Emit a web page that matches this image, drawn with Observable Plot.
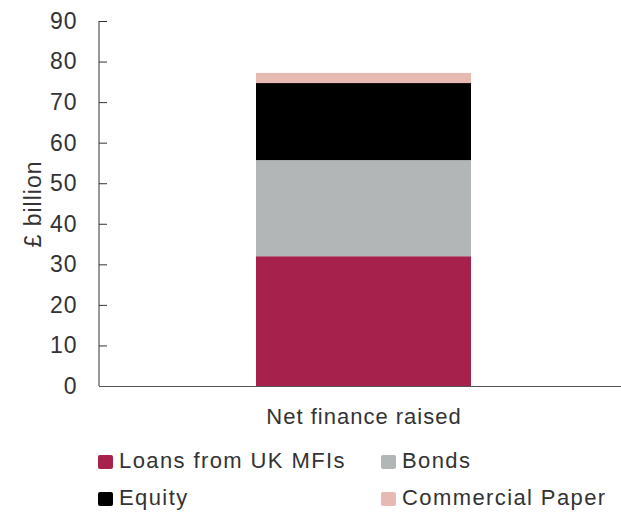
<!DOCTYPE html>
<html><head><meta charset="utf-8">
<script src="https://cdn.jsdelivr.net/npm/d3@7"></script>
<script src="https://cdn.jsdelivr.net/npm/@observablehq/plot@0.6"></script>
<style>
body{margin:0;background:#fff;}
#c{position:relative;width:621px;height:512px;font-family:"Liberation Sans",Arial,sans-serif;color:#333;overflow:hidden;}
#c svg text{letter-spacing:1px;}
.sw{position:absolute;width:15px;height:14px;border-radius:2px;}
.lt{position:absolute;font-size:22px;line-height:24px;letter-spacing:1.4px;white-space:nowrap;color:#333;}
</style></head><body><div id="c"></div>
<script>
const category = ["Net finance raised"];
const series = ["Loans from UK MFIs", "Bonds", "Equity", "Commercial Paper"];
const values = [32.0, 23.7, 19.0, 2.5];
const colors = ["#a6214b", "#b3b6b6", "#000000", "#e6b9b3"];
const yTicks = [0, 10, 20, 30, 40, 50, 60, 70, 80, 90];
const yLabel = "£ billion";

const data = series.map((s, i) => ({category: category[0], series: s, value: values[i]}));

const W = 621, H = 440, ML = 99, MT = 21, MB = 54, MR = 0;
const plot = Plot.plot({
  width: W, height: H,
  marginLeft: ML, marginRight: MR, marginTop: MT, marginBottom: MB,
  style: {fontFamily: "Liberation Sans, Arial, sans-serif", fontSize: "22px", color: "#333", background: "#fff", overflow: "visible"},
  x: {domain: category, paddingInner: 0.588, paddingOuter: 0.2, align: 0.511, label: null},
  y: {domain: [0, 90], label: null},
  color: {domain: series, range: colors},
  marks: [
    Plot.barY(data, {x: "category", y: "value", fill: "series"}),
    Plot.ruleY(yTicks, {insetRight: W - ML - MR - 8, stroke: "#333", strokeWidth: 1}),
    Plot.ruleY([0], {stroke: "#555", strokeWidth: 1.2}),
    Plot.axisY({ticks: yTicks, tickSize: 0, tickPadding: 22, fontSize: 23, label: yLabel, labelAnchor: "center", labelOffset: 75, labelArrow: "none"}),
    Plot.axisX({tickSize: 0, tickPadding: 22, label: null, fontSize: 22})
  ]
});
const c = document.getElementById("c");
c.appendChild(plot);
const ys = plot.scale("y");
d3.select(plot).append("line")
  .attr("x1", ML).attr("x2", ML)
  .attr("y1", ys.apply(90)).attr("y2", ys.apply(0))
  .attr("stroke", "#333").attr("stroke-width", 1);

const legPos = [[98, 455], [381, 455], [98, 492], [381, 492]];
series.forEach((s, i) => {
  const [x, y] = legPos[i];
  const sw = document.createElement("div");
  sw.className = "sw";
  sw.style.left = x + "px"; sw.style.top = y + "px"; sw.style.background = colors[i];
  c.appendChild(sw);
  const t = document.createElement("div");
  t.className = "lt";
  t.style.left = (x + 21) + "px"; t.style.top = (y - 6) + "px";
  t.textContent = s;
  c.appendChild(t);
});
</script></body></html>
